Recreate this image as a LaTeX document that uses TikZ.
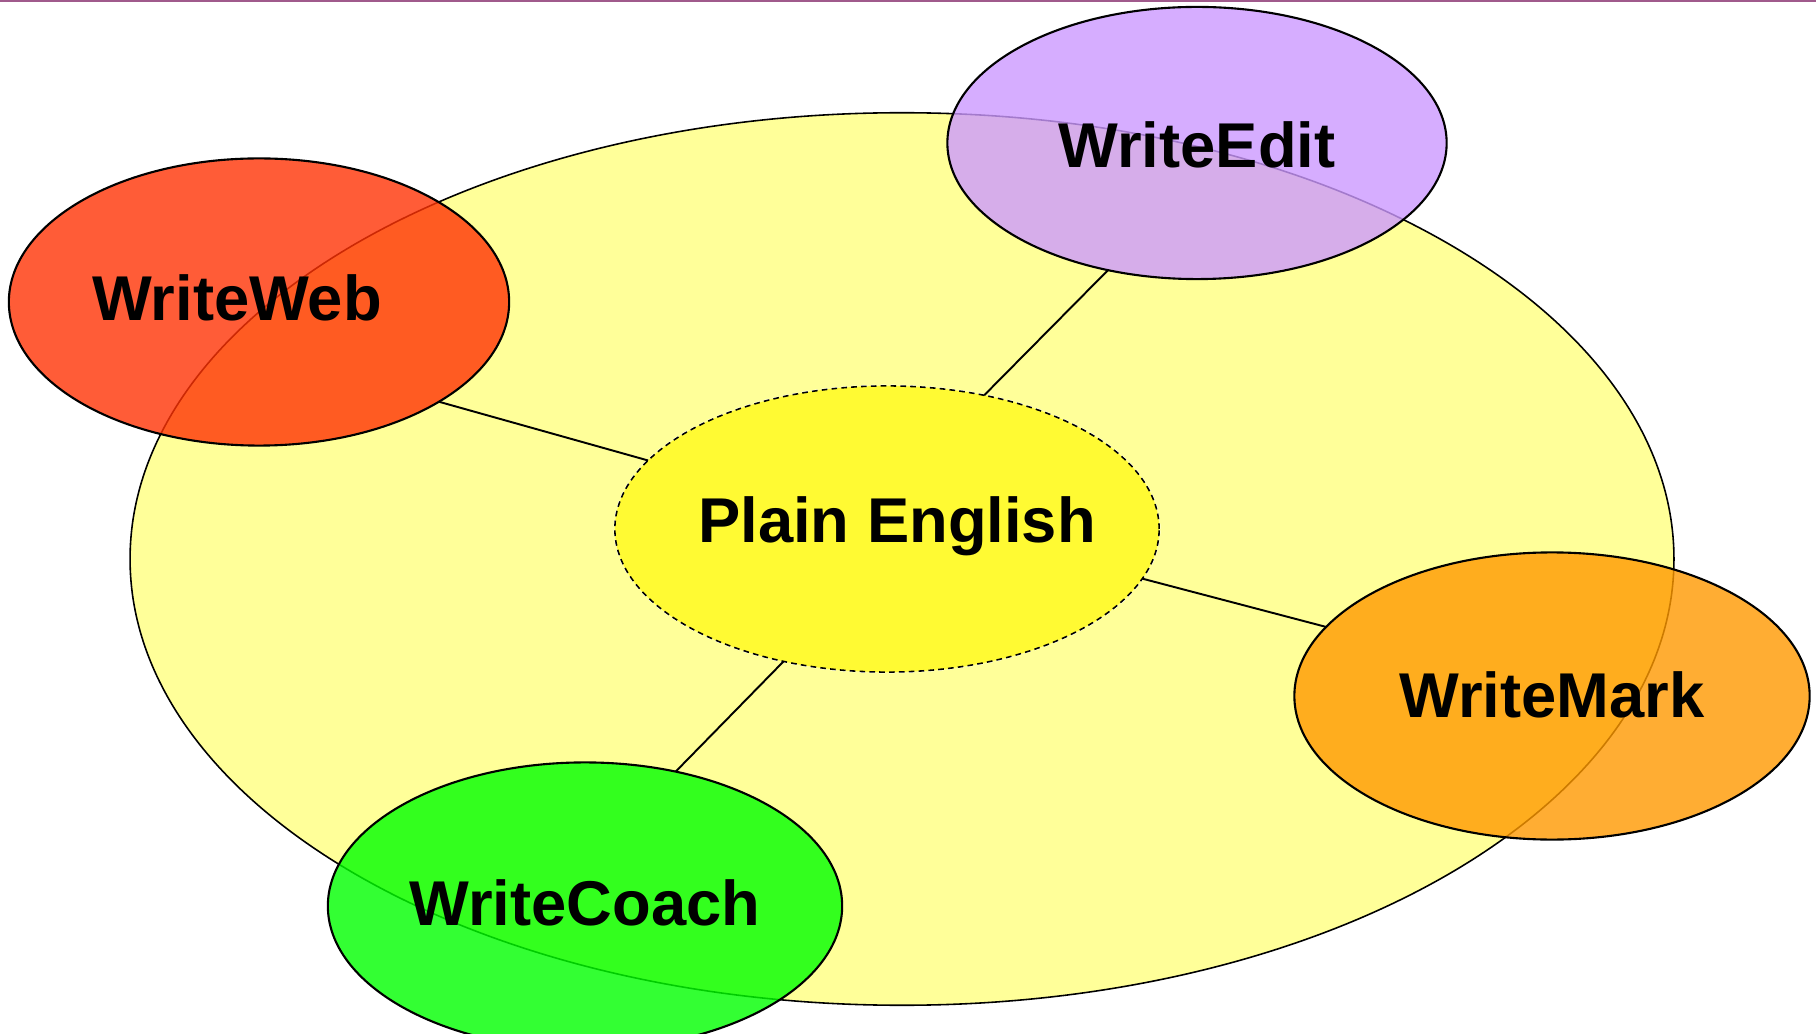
\documentclass[tikz,border=0pt]{standalone}
\usepackage{fontspec}
\setmainfont{Liberation Sans}
\definecolor{bigyellow}{RGB}{255,255,153}
\definecolor{plainyellow}{RGB}{255,250,51}
\definecolor{webred}{RGB}{255,51,5}
\definecolor{editpurple}{RGB}{204,153,255}
\definecolor{markorange}{RGB}{255,153,0}
\definecolor{coachgreen}{RGB}{0,255,0}
\definecolor{rulepurple}{RGB}{160,90,140}
\tikzset{
  blob/.style={ellipse, draw=black, line width=0.6pt, inner sep=0pt, outer sep=0pt, fill opacity=0.8},
  lbl/.style={font=\fontsize{18}{22}\selectfont\bfseries, text height=0.72em, text depth=0pt, inner sep=0pt},
  link/.style={draw=black, line width=0.55pt}
}
\usetikzlibrary{shapes.geometric}
\begin{document}
\begin{tikzpicture}[x=0.01cm,y=-0.01cm]
  \useasboundingbox (0,0) rectangle (1816,1034);
  \clip (0,0) rectangle (1816,1034);
  \draw[rulepurple, line width=0.6pt] (0,1) -- (1816,1);
  % the big ring
  \node[ellipse, draw=black, line width=0.45pt, fill=bigyellow, inner sep=0pt, outer sep=0pt,
        minimum width=15.43cm, minimum height=8.92cm] (ring) at (902,559) {};
  % centre
  \node[ellipse, fill=plainyellow, inner sep=0pt, outer sep=0pt,
        preaction={draw=white, line width=0.7pt},
        draw=black, line width=0.45pt, dash pattern=on 1.6pt off 1.2pt,
        minimum width=5.44cm, minimum height=2.86cm] (pe) at (887,529) {};
  \node[lbl] (pet) at ([shift={(10,1)}]pe.center) {Plain English};
  % satellites
  \node[blob, fill=webred, minimum width=5.00cm, minimum height=2.87cm] (web) at (259,302) {};
  \node[blob, fill=editpurple, minimum width=4.99cm, minimum height=2.72cm] (edit) at (1197,143) {};
  \node[blob, fill=markorange, minimum width=5.15cm, minimum height=2.87cm] (mark) at (1552,696) {};
  \node[blob, fill=coachgreen, minimum width=5.14cm, minimum height=2.87cm] (coach) at (585,906) {};
  \node[lbl] (webt) at ([shift={(-22,6)}]web.center) {WriteWeb};
  \node[lbl] (editt) at ([shift={(0,12)}]edit.center) {WriteEdit};
  \node[lbl] (markt) at ([shift={(0,9)}]mark.center) {WriteMark};
  \node[lbl] (coacht) at ([shift={(0,7)}]coach.center) {WriteCoach};
  % spokes
  \draw[link] (web.-29) -- (pe.164);
  \draw[link] (edit.-125) -- (pe.54);
  \draw[link] (mark.163) -- (pe.-11);
  \draw[link] (coach.56) -- (pe.-128);
\end{tikzpicture}
\end{document}
